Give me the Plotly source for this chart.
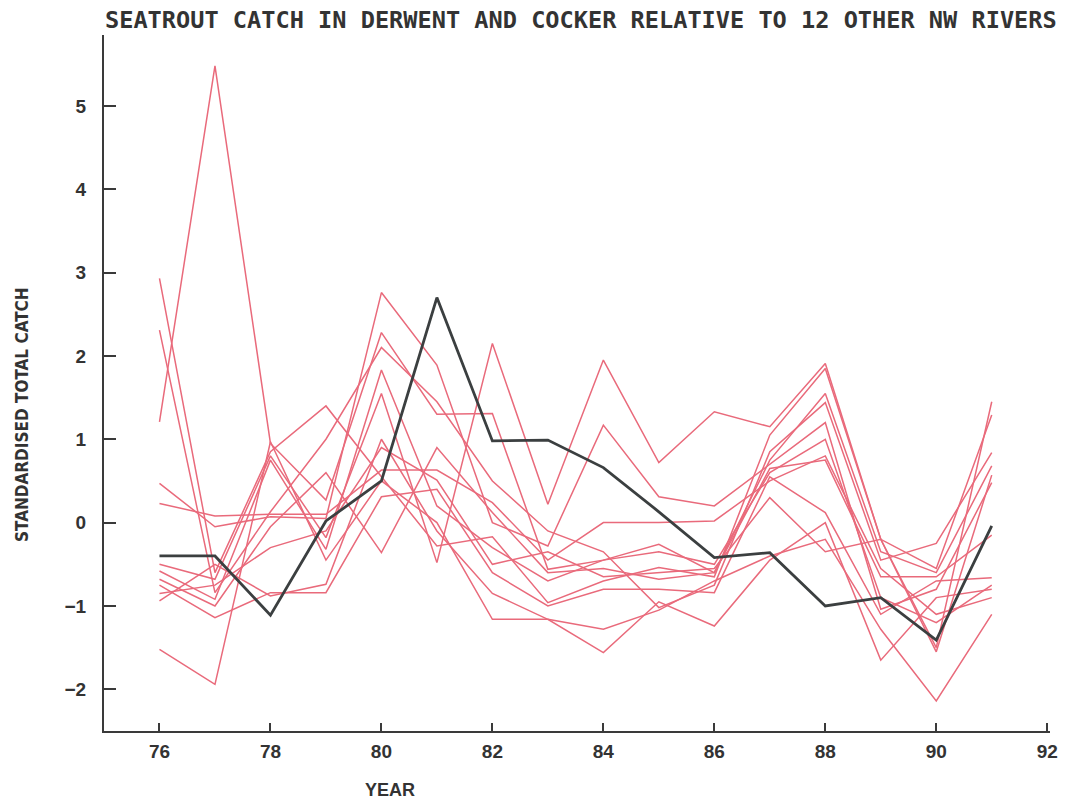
import plotly.graph_objects as go

years = list(range(76, 92))

derwent_cocker = [-0.40, -0.40, -1.11, 0.02, 0.50, 2.70, 0.98, 0.99, 0.66, 0.13, -0.42, -0.36, -1.00, -0.90, -1.41, -0.04]

river_01 = [1.21, 5.48, 0.95, 0.27, 2.28, 1.30, 1.31, -0.56, -0.45, -0.26, -0.60, 0.75, 1.55, -0.35, -0.60, 0.68]
river_02 = [2.93, -0.60, 0.85, 1.40, 0.55, -0.28, -0.17, -0.96, -0.70, -0.54, -0.65, 1.05, 1.85, -0.20, -1.50, 1.45]
river_03 = [2.31, -0.84, 0.13, 1.00, 2.10, 1.45, 0.50, -0.10, -0.35, -1.02, -0.75, 0.85, 1.44, -0.45, -0.25, 0.84]
river_04 = [0.47, -0.05, 0.07, 0.05, 2.76, 1.89, 0.00, -0.28, 1.17, 0.31, 0.20, 0.70, 1.20, -1.04, -0.80, 0.48]
river_05 = [0.23, 0.08, 0.10, 0.10, 0.63, 0.63, 0.24, -0.45, 0.00, 0.00, 0.02, 0.50, 0.80, -0.55, -1.10, -0.90]
river_06 = [-0.50, -0.68, 0.80, -0.18, 1.55, -0.48, 2.15, 0.22, 1.95, 0.72, 1.33, 1.15, 1.91, -0.20, -0.55, 1.29]
river_07 = [-0.58, -0.92, 0.75, -0.32, 1.83, 0.20, -0.30, -0.70, -0.45, -0.35, -0.50, 0.60, 1.00, -0.90, -1.20, -0.75]
river_08 = [-0.68, -1.00, -0.05, 0.60, -0.36, 0.90, 0.12, -0.60, -0.55, -0.68, -0.60, 0.65, 0.75, -0.65, -0.65, -0.15]
river_09 = [-0.75, -1.14, -0.84, -0.84, 0.31, 0.40, -0.60, -1.00, -0.80, -0.80, -0.84, 0.55, 0.12, -1.10, -0.70, -0.66]
river_10 = [-0.94, -0.50, -0.88, -0.74, 1.00, -0.10, -0.85, -1.16, -1.28, -1.05, -0.70, -0.40, -0.20, -1.28, -2.14, -1.10]
river_11 = [-1.52, -1.94, 0.97, -0.45, 0.50, 0.00, -1.16, -1.16, -1.56, -0.95, -1.24, -0.45, 0.00, -1.65, -0.90, -0.80]
river_12 = [-0.85, -0.75, -0.30, -0.10, 0.90, 0.51, -0.50, -0.35, -0.65, -0.60, -0.55, 0.30, -0.35, -0.20, -1.55, 0.57]

other_rivers = [river_01, river_02, river_03, river_04, river_05, river_06,
                river_07, river_08, river_09, river_10, river_11, river_12]

x_ticks = [76, 78, 80, 82, 84, 86, 88, 90, 92]
y_ticks = [-2, -1, 0, 1, 2, 3, 4, 5]

title_text = "SEATROUT CATCH IN DERWENT AND COCKER RELATIVE TO 12 OTHER NW RIVERS"
x_title = "YEAR"
y_title = "STANDARDISED TOTAL CATCH"

RED = "#e96a7b"
DARK = "#3b3f40"
AXIS = "#3a3a3a"

fig = go.Figure()
for r in other_rivers:
    fig.add_trace(go.Scatter(x=years, y=r, mode="lines",
                             line=dict(color=RED, width=1.5),
                             showlegend=False, hoverinfo="skip"))
fig.add_trace(go.Scatter(x=years, y=derwent_cocker, mode="lines",
                         line=dict(color=DARK, width=2.8),
                         showlegend=False))

tick_font = dict(family="Liberation Sans, Arial, sans-serif", size=19, color="#333333", weight="bold")

fig.update_layout(
    width=1070, height=805,
    margin=dict(l=104, r=20, t=35, b=74, autoexpand=False),
    paper_bgcolor="white", plot_bgcolor="white",
    xaxis=dict(range=[75, 92.05], tickvals=x_ticks, ticks="inside", ticklen=8, tickwidth=2,
               tickcolor=AXIS, showline=True, linecolor=AXIS, linewidth=2, automargin=False,
               showgrid=False, zeroline=False, tickfont=tick_font, ticklabelstandoff=2),
    yaxis=dict(range=[-2.5, 5.85], tickvals=y_ticks, ticks="inside", ticklen=12, tickwidth=2,
               tickcolor=AXIS, showline=True, linecolor=AXIS, linewidth=2, automargin=False,
               showgrid=False, zeroline=False, tickfont=tick_font, ticklabelstandoff=12),
    annotations=[
        dict(text=title_text, xref="paper", yref="paper", x=0.0, xshift=-1, y=1.0, yshift=15,
             xanchor="left", yanchor="middle", showarrow=False,
             font=dict(family="DejaVu Sans Mono", size=23.6, color="#333333", weight="bold")),
        dict(text=x_title, xref="paper", yref="paper", x=(390 - 104) / 946, y=0, yshift=-59,
             xanchor="center", yanchor="middle", showarrow=False,
             font=dict(family="Liberation Sans, Arial, sans-serif", size=18, color="#333333", weight="bold")),
        dict(text=y_title, xref="paper", yref="paper", x=0, xshift=-82, y=(731 - 415) / 696,
             xanchor="center", yanchor="middle", showarrow=False, textangle=-90,
             font=dict(family="Liberation Sans Narrow, DejaVu Sans Condensed, sans-serif", size=17,
                       color="#333333", weight="bold")),
    ],
)

fig.write_html("out.html", config={"displayModeBar": False},
               post_script="document.body.style.margin='0';document.body.style.overflow='hidden';")
